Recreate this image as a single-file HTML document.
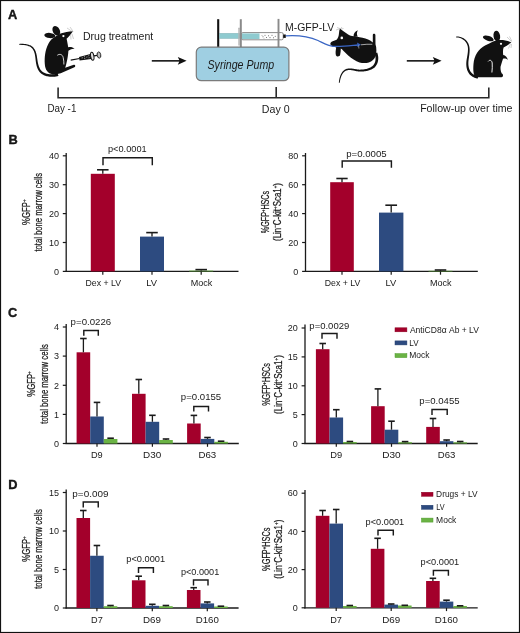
<!DOCTYPE html>
<html><head><meta charset="utf-8"><style>
html,body{margin:0;padding:0;background:#fff;overflow:hidden;}
svg{display:block;will-change:transform;}
text{fill:#1a1a1a;}
</style></head><body>
<svg width="520" height="633" viewBox="0 0 520 633" font-family='"Liberation Sans", sans-serif'>
<rect x="0" y="0" width="520" height="633" fill="#fff"/>
<text x="8.10" y="18.80" font-size="12.8" font-weight="bold" stroke="#000" stroke-width="0.35">A</text>
<text x="8.40" y="143.90" font-size="12.8" font-weight="bold" stroke="#000" stroke-width="0.35">B</text>
<text x="8.10" y="317.30" font-size="12.8" font-weight="bold" stroke="#000" stroke-width="0.35">C</text>
<text x="8.30" y="488.80" font-size="12.8" font-weight="bold" stroke="#000" stroke-width="0.35">D</text>
<g id="panelA">
<!-- Mouse 1 (sitting, looking up) -->
<path d="M19.42,44.90 L19.96,44.88 L20.50,44.87 L21.05,44.87 L21.60,44.88 L22.15,44.90 L22.70,44.93 L23.25,44.97 L23.80,45.02 L24.36,45.09 L24.91,45.16 L25.46,45.26 L26.00,45.36 L26.55,45.48 L27.09,45.62 L27.62,45.77 L28.15,45.94 L28.68,46.13 L29.20,46.33 L29.71,46.56 L30.18,46.78 L30.70,47.12 L31.19,47.49 L31.64,47.89 L32.06,48.31 L32.44,48.76 L32.80,49.23 L33.12,49.72 L33.41,50.24 L33.68,50.77 L33.93,51.33 L34.15,51.90 L34.35,52.49 L34.53,53.09 L34.69,53.71 L34.83,54.34 L34.96,54.98 L35.07,55.63 L35.17,56.29 L35.27,56.95 L35.35,57.61 L35.43,58.35 L35.51,59.10 L35.59,59.83 L35.68,60.56 L35.78,61.29 L35.88,62.00 L35.99,62.71 L36.11,63.41 L36.24,64.10 L36.39,64.79 L36.55,65.46 L36.73,66.13 L36.92,66.79 L37.14,67.44 L37.37,68.08 L37.63,68.70 L37.91,69.32 L38.22,69.93 L38.56,70.52 L38.94,71.11 L39.36,71.69 L39.83,72.23 L40.32,72.74 L40.85,73.22 L41.40,73.66 L41.98,74.08 L42.59,74.46 L43.22,74.82 L43.87,75.14 L44.54,75.44 L45.22,75.70 L45.93,75.94 L46.65,76.15 L47.38,76.33 L48.13,76.48 L48.89,76.61 L49.65,76.71 L50.43,76.79 L51.21,76.84 L51.99,76.86 L52.39,76.86 L52.78,76.86 L53.15,76.85 L53.52,76.83 L53.89,76.81 L54.24,76.78 L54.59,76.75 L54.94,76.71 L55.27,76.67 L55.60,76.62 L55.92,76.56 L56.24,76.50 L56.54,76.44 L56.84,76.37 L57.14,76.29 L57.42,76.21 L57.70,76.13 L57.98,76.04 L58.24,75.95 L58.49,75.86 L57.51,73.34 L57.30,73.43 L57.09,73.51 L56.88,73.58 L56.66,73.66 L56.42,73.73 L56.19,73.80 L55.94,73.86 L55.68,73.92 L55.42,73.98 L55.15,74.03 L54.87,74.09 L54.58,74.13 L54.29,74.17 L53.99,74.21 L53.67,74.25 L53.36,74.27 L53.03,74.30 L52.69,74.32 L52.35,74.33 L52.01,74.34 L51.29,74.34 L50.59,74.32 L49.90,74.27 L49.21,74.20 L48.54,74.11 L47.88,73.99 L47.23,73.85 L46.60,73.69 L45.99,73.50 L45.39,73.29 L44.81,73.05 L44.25,72.80 L43.72,72.52 L43.20,72.21 L42.71,71.88 L42.25,71.53 L41.81,71.16 L41.40,70.76 L41.02,70.33 L40.66,69.89 L40.35,69.42 L40.04,68.91 L39.76,68.40 L39.49,67.86 L39.25,67.31 L39.02,66.75 L38.81,66.17 L38.61,65.57 L38.43,64.96 L38.26,64.34 L38.11,63.70 L37.96,63.05 L37.83,62.38 L37.70,61.70 L37.58,61.01 L37.47,60.31 L37.36,59.60 L37.26,58.87 L37.15,58.14 L37.05,57.39 L36.95,56.70 L36.83,56.02 L36.70,55.33 L36.56,54.65 L36.41,53.98 L36.23,53.31 L36.04,52.65 L35.83,51.99 L35.59,51.35 L35.32,50.72 L35.03,50.11 L34.71,49.51 L34.36,48.94 L33.97,48.38 L33.54,47.85 L33.08,47.34 L32.58,46.86 L32.04,46.41 L31.46,46.00 L30.82,45.62 L30.24,45.35 L29.68,45.13 L29.11,44.92 L28.54,44.74 L27.97,44.57 L27.39,44.43 L26.81,44.30 L26.23,44.19 L25.65,44.09 L25.07,44.01 L24.49,43.95 L23.91,43.89 L23.33,43.86 L22.75,43.83 L22.18,43.82 L21.61,43.81 L21.04,43.82 L20.48,43.84 L19.92,43.87 L19.38,43.90 Z" fill="#111"/>
<path d="M52.5,74.2 C48,73.5 45.2,70 44.8,64 C44.4,57.5 45,50.5 48.4,43.8 C50,40.6 52.5,38.3 55,36.8 L60.5,33.6 C64.5,32.4 68.5,31.6 72.9,31.3 C71.5,33.6 69,36.4 66.6,38.8 C67.3,42 67.8,45 68.2,47.2 C70.3,46.6 72.8,47 74.6,48.8 C72.6,48.5 70.4,49.4 68.4,50.8 C68.2,55 67.5,59 66.6,62.5 C66.2,64.5 65.6,66.5 65.2,67.8 L73.8,64.8 C75.4,64.4 75.8,66.6 74.4,67.3 L63,72.3 C59.5,73.8 56,74.8 52.5,74.4 Z" fill="#111"/>
<ellipse cx="49.8" cy="35.5" rx="5.5" ry="2.6" transform="rotate(6 49.8 35.5)" fill="#111"/>
<ellipse cx="56.3" cy="30.8" rx="3.5" ry="5.1" transform="rotate(-28 56.3 30.8)" fill="#111"/>
<circle cx="63.4" cy="36.1" r="1.15" fill="#fff"/>
<path d="M57.3,55.3 C59.5,53.6 62.4,54.2 63.2,57.5 C63.8,60 63.9,62.5 63.9,64.5" fill="none" stroke="#e6e6e6" stroke-width="0.9"/>
<path d="M67,28 L73,32 M70,27 L73.2,31.5 M72,34 L73.5,39 M70.5,34 L71,39.5" stroke="#999" stroke-width="0.45" fill="none"/>
<!-- syringe on mouse 1 -->
<g transform="rotate(-10 85 57.6)">
<line x1="70.5" y1="57.6" x2="79.5" y2="57.6" stroke="#111" stroke-width="1.1"/>
<path d="M79.2,56 L91,54.9 L91,60.1 L79.2,59.4 Z" fill="#111"/>
<path d="M81.5,57.4 L83,57.4 M84,56.6 L85.2,56.6 M84,58.3 L85.2,58.3 M86.3,57.4 L87.6,57.4 M88.4,56.4 L89.6,56.4 M88.4,58.5 L89.6,58.5" stroke="#e8e8e8" stroke-width="0.55"/>
<ellipse cx="92.4" cy="57.5" rx="1.6" ry="4.1" fill="#ddd" stroke="#111" stroke-width="1"/>
<line x1="94" y1="57.5" x2="97.6" y2="57.5" stroke="#111" stroke-width="1.3"/>
<ellipse cx="99.2" cy="57.5" rx="1.8" ry="3.1" fill="#bbb" stroke="#222" stroke-width="0.9"/>
</g>
<text x="82.94" y="39.6" font-size="10.6" textLength="70.24" lengthAdjust="spacingAndGlyphs">Drug treatment</text>
<!-- arrow 1 -->
<line x1="151.8" y1="60.85" x2="181" y2="60.85" stroke="#222" stroke-width="1.7"/>
<path d="M186.6,60.85 L177.8,57.1 L179.6,60.85 L177.8,64.7 Z" fill="#111"/>
<!-- syringe pump -->
<line x1="218.2" y1="19.2" x2="218.2" y2="47" stroke="#111" stroke-width="2.1"/>
<rect x="219.3" y="33.3" width="20.4" height="5.2" fill="#8fcbd0" stroke="#7aa9ad" stroke-width="0.4"/>
<path d="M239,28.2 L239,45" stroke="#b5b5b5" stroke-width="1.4" stroke-linecap="round"/>
<rect x="241.4" y="32.6" width="41.8" height="7.2" rx="1.5" fill="#fff" stroke="#8a8a8a" stroke-width="1"/>
<rect x="241.9" y="33.4" width="17.6" height="5.6" fill="#8fcbd0"/>
<g fill="#666">
<circle cx="263" cy="36.8" r="0.55"/><circle cx="265" cy="35.3" r="0.55"/><circle cx="266.5" cy="37.5" r="0.55"/><circle cx="268.5" cy="35.8" r="0.55"/><circle cx="270" cy="37.6" r="0.55"/><circle cx="272" cy="35.2" r="0.55"/><circle cx="273.5" cy="37.8" r="0.55"/><circle cx="275.3" cy="36.2" r="0.55"/><circle cx="264" cy="38.2" r="0.4"/><circle cx="262" cy="35.5" r="0.4"/>
</g>
<line x1="240.8" y1="19.2" x2="240.8" y2="47" stroke="#8a8a8a" stroke-width="2"/>
<line x1="278.5" y1="18.9" x2="278.5" y2="47" stroke="#8a8a8a" stroke-width="1.9"/>
<rect x="283.2" y="34.5" width="2.6" height="3.4" fill="#111"/>
<rect x="196.3" y="47.1" width="92.6" height="33.6" rx="5" fill="#9fcfe2" stroke="#7b7b7b" stroke-width="1.2"/>
<text x="207.50" y="69.3" font-size="12.2" font-style="italic" textLength="66.64" lengthAdjust="spacingAndGlyphs">Syringe Pump</text>
<text x="285.06" y="30.6" font-size="10.3" textLength="49.19" lengthAdjust="spacingAndGlyphs">M-GFP-LV</text>
<!-- Mouse 2 (lying, injected) -->
<path d="M339.75,82.74 L339.79,82.41 L339.83,82.08 L339.87,81.75 L339.93,81.41 L339.98,81.07 L340.05,80.73 L340.11,80.38 L340.19,80.03 L340.26,79.68 L340.35,79.33 L340.44,78.97 L340.53,78.61 L340.64,78.25 L340.74,77.89 L340.86,77.53 L340.98,77.17 L341.11,76.80 L341.24,76.44 L341.39,76.08 L341.53,75.73 L341.76,75.23 L342.01,74.75 L342.27,74.28 L342.55,73.84 L342.84,73.41 L343.15,73.00 L343.47,72.61 L343.82,72.25 L344.17,71.91 L344.55,71.59 L344.94,71.30 L345.36,71.04 L345.79,70.80 L346.25,70.59 L346.73,70.41 L347.23,70.26 L347.76,70.14 L348.32,70.05 L348.90,69.99 L349.52,69.97 L349.99,69.99 L350.48,70.02 L350.97,70.07 L351.45,70.13 L351.94,70.21 L352.42,70.29 L352.91,70.39 L353.40,70.49 L353.89,70.59 L354.39,70.70 L354.90,70.81 L355.42,70.92 L355.95,71.03 L356.48,71.13 L357.03,71.23 L357.59,71.32 L358.16,71.40 L358.75,71.46 L359.36,71.52 L359.99,71.55 L360.92,71.56 L361.82,71.54 L362.70,71.50 L363.57,71.44 L364.43,71.35 L365.27,71.25 L366.09,71.12 L366.89,70.96 L367.67,70.78 L368.44,70.58 L369.18,70.36 L369.91,70.11 L370.61,69.83 L371.29,69.53 L371.94,69.21 L372.58,68.85 L373.18,68.47 L373.76,68.07 L374.32,67.63 L374.87,67.14 L375.38,66.56 L375.84,65.97 L376.26,65.36 L376.64,64.72 L376.98,64.06 L377.28,63.38 L377.54,62.68 L377.76,61.96 L377.94,61.22 L378.08,60.47 L378.18,59.71 L378.24,58.93 L378.26,58.14 L378.23,57.35 L378.16,56.54 L378.04,55.73 L377.88,54.92 L377.68,54.10 L377.44,53.28 L377.16,52.49 L374.44,53.51 L374.72,54.22 L374.95,54.90 L375.14,55.57 L375.30,56.24 L375.41,56.90 L375.49,57.56 L375.54,58.21 L375.55,58.85 L375.52,59.48 L375.47,60.10 L375.37,60.71 L375.25,61.31 L375.09,61.89 L374.90,62.45 L374.68,63.00 L374.43,63.54 L374.14,64.05 L373.83,64.55 L373.48,65.03 L373.13,65.46 L372.75,65.82 L372.32,66.18 L371.85,66.53 L371.36,66.87 L370.84,67.18 L370.29,67.48 L369.71,67.76 L369.10,68.02 L368.47,68.27 L367.81,68.49 L367.13,68.70 L366.42,68.88 L365.69,69.05 L364.94,69.19 L364.16,69.32 L363.37,69.43 L362.56,69.51 L361.72,69.58 L360.87,69.62 L360.01,69.65 L359.46,69.64 L358.90,69.61 L358.36,69.57 L357.83,69.51 L357.30,69.45 L356.78,69.37 L356.26,69.29 L355.75,69.20 L355.24,69.11 L354.73,69.02 L354.22,68.93 L353.71,68.84 L353.20,68.75 L352.69,68.67 L352.17,68.60 L351.65,68.54 L351.12,68.49 L350.59,68.45 L350.05,68.43 L349.48,68.43 L348.78,68.48 L348.10,68.57 L347.45,68.69 L346.83,68.86 L346.24,69.06 L345.68,69.30 L345.14,69.57 L344.63,69.87 L344.15,70.20 L343.70,70.56 L343.27,70.94 L342.87,71.35 L342.50,71.78 L342.14,72.23 L341.81,72.70 L341.51,73.18 L341.22,73.69 L340.95,74.20 L340.70,74.73 L340.47,75.27 L340.32,75.67 L340.19,76.06 L340.06,76.44 L339.94,76.83 L339.82,77.21 L339.71,77.59 L339.61,77.97 L339.52,78.35 L339.43,78.73 L339.35,79.10 L339.28,79.47 L339.21,79.84 L339.15,80.20 L339.09,80.57 L339.04,80.92 L338.99,81.28 L338.95,81.63 L338.91,81.98 L338.88,82.32 L338.85,82.66 Z" fill="#111"/>
<path d="M340,28.6 C342,30.5 345.5,33 348.1,34.4 C350,35.4 351.5,36 353.6,36.3 C357,36.8 358,37.1 359.6,37.3 C363.5,37.8 367.5,39 370.6,40.8 L372.8,42.5 L372.8,35 C372.8,33.3 375.3,33.3 375.4,35 L375.5,44.2 C376.8,48 376.6,53 375.6,56 C374.5,59.2 372,61.5 368.8,62.5 C366,63.3 362.5,63.3 359.5,62.4 C355.5,61.2 351.5,58.5 348.5,55.8 C346,53.5 343.5,51 342,49.2 L340.8,48.5 C340.8,50.5 340.6,53 340.1,55 C339.5,56.8 336.7,57 335.9,55.2 C335.3,53 335.7,50 336.2,47.6 C334.5,47 332.7,46.5 331.6,45.8 C330,44.8 329.8,42.8 331.6,41.7 C333,40.8 335,40.3 336.6,39.7 C338,38.5 338.8,36 339,33 C339.1,31.2 339.4,29.8 340,28.6 Z" fill="#111"/>
<path d="M353.6,36.9 C353.3,33.6 355,31 357.9,30.2 C356.7,32 356.6,34.3 357.7,36.6 Z" fill="#111"/>
<circle cx="341.8" cy="37.9" r="1.3" fill="#fff"/>
<path d="M336,30 L340,28.8 M337,27.5 L340.3,28.7 M342,27 L340.5,28.8 M343.5,28.5 L341,29" stroke="#999" stroke-width="0.45" fill="none"/>
<path d="M285.8,35.9 C300,35 310,37 318,40.5 C323,42.8 328,45.8 333,46.3 C341,46.9 350,45.7 358,45" fill="none" stroke="#3a66c4" stroke-width="1.3"/>
<path d="M361,44.8 L357,42.6 L357.6,44.9 L357.2,47 Z" fill="#3a66c4"/>
<path d="M361,44.8 C365,44.3 369,44 372.3,44.3" fill="none" stroke="#ccc" stroke-width="0.8"/>
<line x1="358.6" y1="45.5" x2="358.9" y2="48.5" stroke="#ccc" stroke-width="0.6"/>
<!-- arrow 2 -->
<line x1="406.8" y1="60.85" x2="436" y2="60.85" stroke="#222" stroke-width="1.7"/>
<path d="M441.6,60.85 L432.8,57.1 L434.6,60.85 L432.8,64.7 Z" fill="#111"/>
<!-- Mouse 3 (sitting) -->
<path d="M456.18,37.40 L457.17,37.46 L458.13,37.59 L459.07,37.78 L459.98,38.03 L460.86,38.34 L461.71,38.71 L462.52,39.14 L463.28,39.63 L464.00,40.17 L464.67,40.78 L465.29,41.44 L465.86,42.16 L466.36,42.93 L466.81,43.76 L467.19,44.65 L467.50,45.60 L467.74,46.60 L467.90,47.67 L467.98,48.80 L467.97,49.99 L467.92,50.98 L467.84,51.95 L467.74,52.88 L467.62,53.77 L467.49,54.64 L467.36,55.49 L467.22,56.32 L467.07,57.13 L466.93,57.93 L466.79,58.73 L466.66,59.52 L466.55,60.32 L466.45,61.12 L466.36,61.93 L466.31,62.76 L466.28,63.60 L466.28,64.46 L466.32,65.34 L466.40,66.25 L466.52,67.18 L466.69,68.12 L466.90,69.04 L467.16,69.91 L467.47,70.75 L467.83,71.56 L468.23,72.33 L468.67,73.06 L469.16,73.75 L469.69,74.40 L470.26,75.01 L470.87,75.57 L471.52,76.09 L472.20,76.57 L472.92,76.99 L473.67,77.37 L474.45,77.70 L475.26,77.99 L476.10,78.22 L476.97,78.41 L477.82,78.54 L478.18,75.86 L477.41,75.77 L476.70,75.64 L476.01,75.47 L475.35,75.27 L474.72,75.02 L474.11,74.74 L473.54,74.42 L472.98,74.06 L472.46,73.67 L471.97,73.24 L471.50,72.77 L471.06,72.27 L470.65,71.73 L470.27,71.14 L469.92,70.52 L469.60,69.86 L469.32,69.16 L469.07,68.42 L468.86,67.64 L468.68,66.82 L468.55,65.98 L468.45,65.17 L468.39,64.38 L468.37,63.60 L468.37,62.83 L468.40,62.08 L468.45,61.32 L468.52,60.56 L468.61,59.79 L468.71,59.02 L468.82,58.23 L468.93,57.43 L469.05,56.61 L469.17,55.76 L469.28,54.89 L469.38,53.99 L469.47,53.05 L469.55,52.08 L469.60,51.07 L469.63,50.01 L469.59,48.72 L469.46,47.47 L469.24,46.29 L468.94,45.17 L468.56,44.11 L468.09,43.12 L467.56,42.19 L466.96,41.34 L466.30,40.55 L465.58,39.82 L464.80,39.17 L463.98,38.59 L463.11,38.07 L462.21,37.63 L461.27,37.25 L460.30,36.94 L459.31,36.71 L458.29,36.54 L457.25,36.43 L456.22,36.40 Z" fill="#111"/>
<path d="M476.5,77.2 C473.2,76.2 473,70 473.5,64 C474.2,55.5 478.5,48.8 485.5,45.2 C488,44 490.5,42.8 493,41.5 L497,40.3 C502,39.6 507,40.5 511.4,42.3 C509,44.4 506,46 503.6,47.6 C502.8,50 502.9,52.5 503.2,55 C505.5,55.4 507.5,57.5 507.8,60 C506.5,58.8 504.7,58.3 503,58.8 C502.2,61.5 501.2,64 500.6,66.5 C500.3,69 500.8,71.5 501.8,73.6 C503.5,74.3 503.4,76.8 501.5,77.2 Z" fill="#111"/>
<ellipse cx="488.3" cy="38.4" rx="5.6" ry="2.5" transform="rotate(18 488.3 38.4)" fill="#111"/>
<ellipse cx="496.8" cy="36" rx="3.3" ry="5.4" transform="rotate(-8 496.8 36)" fill="#111"/>
<circle cx="501" cy="43.8" r="1.1" fill="#fff"/>
<path d="M488.2,61.4 C489.8,59.4 491.8,60.2 492.2,63 C492.5,66 492.2,69.5 491.9,72.5" fill="none" stroke="#eee" stroke-width="1.0"/>
<path d="M507,37 L511.5,41.5 M509.5,36.5 L511.8,41.2 M510.5,43.5 L508.5,48.5 M511.5,44 L511,48" stroke="#999" stroke-width="0.45" fill="none"/>
<!-- timeline -->
<path d="M58.1,87.5 L58.1,97.7 L488.8,97.7 L488.8,87.5" fill="none" stroke="#2a2a2a" stroke-width="1.6"/>
<line x1="276.2" y1="87" x2="276.2" y2="97.7" stroke="#2a2a2a" stroke-width="1.6"/>
<text x="47.39" y="111.8" font-size="10.8" textLength="28.99" lengthAdjust="spacingAndGlyphs">Day -1</text>
<text x="261.83" y="112.5" font-size="10.8" textLength="27.79" lengthAdjust="spacingAndGlyphs">Day 0</text>
<text x="420.13" y="112.3" font-size="10.8" textLength="92.34" lengthAdjust="spacingAndGlyphs">Follow-up over time</text>
</g>

<line x1="66.20" y1="153.00" x2="66.20" y2="272.00" stroke="#1a1a1a" stroke-width="1.3"/>
<line x1="65.60" y1="271.40" x2="238.50" y2="271.40" stroke="#1a1a1a" stroke-width="1.3"/>
<line x1="62.80" y1="155.80" x2="66.20" y2="155.80" stroke="#1a1a1a" stroke-width="1.2"/>
<text x="58.90" y="159.02" font-size="9" text-anchor="end">40</text>
<line x1="62.80" y1="184.70" x2="66.20" y2="184.70" stroke="#1a1a1a" stroke-width="1.2"/>
<text x="58.90" y="187.92" font-size="9" text-anchor="end">30</text>
<line x1="62.80" y1="213.60" x2="66.20" y2="213.60" stroke="#1a1a1a" stroke-width="1.2"/>
<text x="58.90" y="216.82" font-size="9" text-anchor="end">20</text>
<line x1="62.80" y1="242.50" x2="66.20" y2="242.50" stroke="#1a1a1a" stroke-width="1.2"/>
<text x="58.90" y="245.72" font-size="9" text-anchor="end">10</text>
<line x1="62.80" y1="271.40" x2="66.20" y2="271.40" stroke="#1a1a1a" stroke-width="1.2"/>
<text x="58.90" y="274.62" font-size="9" text-anchor="end">0</text>
<rect x="90.80" y="173.80" width="24.00" height="97.60" fill="#a3002b"/>
<rect x="140.00" y="236.60" width="24.00" height="34.80" fill="#2d4b80"/>
<rect x="189.20" y="270.60" width="24.00" height="0.80" fill="#6ab344"/>
<line x1="102.80" y1="169.80" x2="102.80" y2="173.80" stroke="#1a1a1a" stroke-width="1.3"/>
<line x1="97.04" y1="169.80" x2="108.56" y2="169.80" stroke="#1a1a1a" stroke-width="1.6"/>
<line x1="152.00" y1="232.60" x2="152.00" y2="236.60" stroke="#1a1a1a" stroke-width="1.3"/>
<line x1="146.24" y1="232.60" x2="157.76" y2="232.60" stroke="#1a1a1a" stroke-width="1.6"/>
<line x1="201.20" y1="269.60" x2="201.20" y2="270.60" stroke="#1a1a1a" stroke-width="1.3"/>
<line x1="195.44" y1="269.60" x2="206.96" y2="269.60" stroke="#1a1a1a" stroke-width="1.6"/>
<line x1="102.80" y1="271.40" x2="102.80" y2="274.70" stroke="#1a1a1a" stroke-width="1.2"/>
<line x1="152.00" y1="271.40" x2="152.00" y2="274.70" stroke="#1a1a1a" stroke-width="1.2"/>
<line x1="201.20" y1="271.40" x2="201.20" y2="274.70" stroke="#1a1a1a" stroke-width="1.2"/>
<text x="85.50" y="286.44" font-size="9" textLength="35.54" lengthAdjust="spacingAndGlyphs">Dex + LV</text>
<text x="146.28" y="286.44" font-size="9" textLength="10.76" lengthAdjust="spacingAndGlyphs">LV</text>
<text x="190.66" y="286.44" font-size="9" textLength="21.63" lengthAdjust="spacingAndGlyphs">Mock</text>
<polyline points="103.00,165.20 103.00,157.80 152.30,157.80 152.30,165.20" fill="none" stroke="#1a1a1a" stroke-width="1.45"/>
<text x="108.01" y="152.04" font-size="9" textLength="38.64" lengthAdjust="spacingAndGlyphs">p&lt;0.0001</text>
<line x1="305.50" y1="153.00" x2="305.50" y2="272.00" stroke="#1a1a1a" stroke-width="1.3"/>
<line x1="304.90" y1="271.40" x2="477.80" y2="271.40" stroke="#1a1a1a" stroke-width="1.3"/>
<line x1="302.10" y1="155.80" x2="305.50" y2="155.80" stroke="#1a1a1a" stroke-width="1.2"/>
<text x="298.20" y="159.02" font-size="9" text-anchor="end">80</text>
<line x1="302.10" y1="184.70" x2="305.50" y2="184.70" stroke="#1a1a1a" stroke-width="1.2"/>
<text x="298.20" y="187.92" font-size="9" text-anchor="end">60</text>
<line x1="302.10" y1="213.60" x2="305.50" y2="213.60" stroke="#1a1a1a" stroke-width="1.2"/>
<text x="298.20" y="216.82" font-size="9" text-anchor="end">40</text>
<line x1="302.10" y1="242.50" x2="305.50" y2="242.50" stroke="#1a1a1a" stroke-width="1.2"/>
<text x="298.20" y="245.72" font-size="9" text-anchor="end">20</text>
<line x1="302.10" y1="271.40" x2="305.50" y2="271.40" stroke="#1a1a1a" stroke-width="1.2"/>
<text x="298.20" y="274.62" font-size="9" text-anchor="end">0</text>
<rect x="330.20" y="182.20" width="23.60" height="89.20" fill="#a3002b"/>
<rect x="379.00" y="212.60" width="24.40" height="58.80" fill="#2d4b80"/>
<rect x="428.50" y="270.80" width="24.00" height="0.60" fill="#6ab344"/>
<line x1="342.00" y1="178.50" x2="342.00" y2="182.20" stroke="#1a1a1a" stroke-width="1.3"/>
<line x1="336.34" y1="178.50" x2="347.66" y2="178.50" stroke="#1a1a1a" stroke-width="1.6"/>
<line x1="391.20" y1="205.20" x2="391.20" y2="212.60" stroke="#1a1a1a" stroke-width="1.3"/>
<line x1="385.34" y1="205.20" x2="397.06" y2="205.20" stroke="#1a1a1a" stroke-width="1.6"/>
<line x1="440.50" y1="270.00" x2="440.50" y2="270.80" stroke="#1a1a1a" stroke-width="1.3"/>
<line x1="434.74" y1="270.00" x2="446.26" y2="270.00" stroke="#1a1a1a" stroke-width="1.6"/>
<line x1="342.00" y1="271.40" x2="342.00" y2="274.70" stroke="#1a1a1a" stroke-width="1.2"/>
<line x1="391.20" y1="271.40" x2="391.20" y2="274.70" stroke="#1a1a1a" stroke-width="1.2"/>
<line x1="440.50" y1="271.40" x2="440.50" y2="274.70" stroke="#1a1a1a" stroke-width="1.2"/>
<text x="324.80" y="286.44" font-size="9" textLength="35.54" lengthAdjust="spacingAndGlyphs">Dex + LV</text>
<text x="385.58" y="286.44" font-size="9" textLength="10.76" lengthAdjust="spacingAndGlyphs">LV</text>
<text x="429.96" y="286.44" font-size="9" textLength="21.63" lengthAdjust="spacingAndGlyphs">Mock</text>
<polyline points="342.20,167.70 342.20,161.00 391.40,161.00 391.40,167.70" fill="none" stroke="#1a1a1a" stroke-width="1.45"/>
<text x="346.18" y="156.64" font-size="9" textLength="40.42" lengthAdjust="spacingAndGlyphs">p=0.0005</text>
<line x1="66.20" y1="324.00" x2="66.20" y2="444.10" stroke="#1a1a1a" stroke-width="1.3"/>
<line x1="65.60" y1="443.50" x2="238.80" y2="443.50" stroke="#1a1a1a" stroke-width="1.3"/>
<line x1="62.80" y1="327.00" x2="66.20" y2="327.00" stroke="#1a1a1a" stroke-width="1.2"/>
<text x="58.90" y="330.22" font-size="9" text-anchor="end">4</text>
<line x1="62.80" y1="356.10" x2="66.20" y2="356.10" stroke="#1a1a1a" stroke-width="1.2"/>
<text x="58.90" y="359.32" font-size="9" text-anchor="end">3</text>
<line x1="62.80" y1="385.30" x2="66.20" y2="385.30" stroke="#1a1a1a" stroke-width="1.2"/>
<text x="58.90" y="388.52" font-size="9" text-anchor="end">2</text>
<line x1="62.80" y1="414.40" x2="66.20" y2="414.40" stroke="#1a1a1a" stroke-width="1.2"/>
<text x="58.90" y="417.62" font-size="9" text-anchor="end">1</text>
<line x1="62.80" y1="443.50" x2="66.20" y2="443.50" stroke="#1a1a1a" stroke-width="1.2"/>
<text x="58.90" y="446.72" font-size="9" text-anchor="end">0</text>
<rect x="76.60" y="352.30" width="13.60" height="91.20" fill="#a3002b"/>
<rect x="90.20" y="416.50" width="13.60" height="27.00" fill="#2d4b80"/>
<rect x="103.80" y="439.00" width="13.60" height="4.50" fill="#6ab344"/>
<rect x="132.00" y="393.80" width="13.60" height="49.70" fill="#a3002b"/>
<rect x="145.60" y="421.80" width="13.60" height="21.70" fill="#2d4b80"/>
<rect x="159.20" y="440.00" width="13.60" height="3.50" fill="#6ab344"/>
<rect x="187.10" y="423.50" width="13.60" height="20.00" fill="#a3002b"/>
<rect x="200.70" y="438.90" width="13.60" height="4.60" fill="#2d4b80"/>
<rect x="214.30" y="441.80" width="13.60" height="1.70" fill="#6ab344"/>
<line x1="83.40" y1="338.50" x2="83.40" y2="352.30" stroke="#1a1a1a" stroke-width="1.3"/>
<line x1="80.14" y1="338.50" x2="86.66" y2="338.50" stroke="#1a1a1a" stroke-width="1.6"/>
<line x1="97.00" y1="402.40" x2="97.00" y2="416.50" stroke="#1a1a1a" stroke-width="1.3"/>
<line x1="93.74" y1="402.40" x2="100.26" y2="402.40" stroke="#1a1a1a" stroke-width="1.6"/>
<line x1="110.60" y1="438.20" x2="110.60" y2="439.00" stroke="#1a1a1a" stroke-width="1.3"/>
<line x1="107.34" y1="438.20" x2="113.86" y2="438.20" stroke="#1a1a1a" stroke-width="1.6"/>
<line x1="138.80" y1="379.50" x2="138.80" y2="393.80" stroke="#1a1a1a" stroke-width="1.3"/>
<line x1="135.54" y1="379.50" x2="142.06" y2="379.50" stroke="#1a1a1a" stroke-width="1.6"/>
<line x1="152.40" y1="415.30" x2="152.40" y2="421.80" stroke="#1a1a1a" stroke-width="1.3"/>
<line x1="149.14" y1="415.30" x2="155.66" y2="415.30" stroke="#1a1a1a" stroke-width="1.6"/>
<line x1="166.00" y1="439.00" x2="166.00" y2="440.00" stroke="#1a1a1a" stroke-width="1.3"/>
<line x1="162.74" y1="439.00" x2="169.26" y2="439.00" stroke="#1a1a1a" stroke-width="1.6"/>
<line x1="193.90" y1="415.40" x2="193.90" y2="423.50" stroke="#1a1a1a" stroke-width="1.3"/>
<line x1="190.64" y1="415.40" x2="197.16" y2="415.40" stroke="#1a1a1a" stroke-width="1.6"/>
<line x1="207.50" y1="437.50" x2="207.50" y2="438.90" stroke="#1a1a1a" stroke-width="1.3"/>
<line x1="204.24" y1="437.50" x2="210.76" y2="437.50" stroke="#1a1a1a" stroke-width="1.6"/>
<line x1="221.10" y1="441.20" x2="221.10" y2="441.80" stroke="#1a1a1a" stroke-width="1.3"/>
<line x1="217.84" y1="441.20" x2="224.36" y2="441.20" stroke="#1a1a1a" stroke-width="1.6"/>
<line x1="97.00" y1="443.50" x2="97.00" y2="446.80" stroke="#1a1a1a" stroke-width="1.2"/>
<line x1="152.40" y1="443.50" x2="152.40" y2="446.80" stroke="#1a1a1a" stroke-width="1.2"/>
<line x1="207.50" y1="443.50" x2="207.50" y2="446.80" stroke="#1a1a1a" stroke-width="1.2"/>
<text x="90.94" y="458.24" font-size="9" textLength="11.79" lengthAdjust="spacingAndGlyphs">D9</text>
<text x="142.99" y="458.24" font-size="9" textLength="18.20" lengthAdjust="spacingAndGlyphs">D30</text>
<text x="198.40" y="458.24" font-size="9" textLength="17.82" lengthAdjust="spacingAndGlyphs">D63</text>
<polyline points="83.80,335.70 83.80,330.40 98.30,330.40 98.30,335.70" fill="none" stroke="#1a1a1a" stroke-width="1.45"/>
<polyline points="193.80,411.50 193.80,406.50 208.50,406.50 208.50,411.50" fill="none" stroke="#1a1a1a" stroke-width="1.45"/>
<text x="70.63" y="324.59" font-size="9" textLength="40.55" lengthAdjust="spacingAndGlyphs">p=0.0226</text>
<text x="180.88" y="400.44" font-size="9" textLength="40.32" lengthAdjust="spacingAndGlyphs">p=0.0155</text>
<line x1="305.00" y1="324.50" x2="305.00" y2="444.10" stroke="#1a1a1a" stroke-width="1.3"/>
<line x1="304.40" y1="443.50" x2="477.70" y2="443.50" stroke="#1a1a1a" stroke-width="1.3"/>
<line x1="301.60" y1="328.00" x2="305.00" y2="328.00" stroke="#1a1a1a" stroke-width="1.2"/>
<text x="297.70" y="331.22" font-size="9" text-anchor="end">20</text>
<line x1="301.60" y1="356.90" x2="305.00" y2="356.90" stroke="#1a1a1a" stroke-width="1.2"/>
<text x="297.70" y="360.12" font-size="9" text-anchor="end">15</text>
<line x1="301.60" y1="385.80" x2="305.00" y2="385.80" stroke="#1a1a1a" stroke-width="1.2"/>
<text x="297.70" y="389.02" font-size="9" text-anchor="end">10</text>
<line x1="301.60" y1="414.60" x2="305.00" y2="414.60" stroke="#1a1a1a" stroke-width="1.2"/>
<text x="297.70" y="417.82" font-size="9" text-anchor="end">5</text>
<line x1="301.60" y1="443.50" x2="305.00" y2="443.50" stroke="#1a1a1a" stroke-width="1.2"/>
<text x="297.70" y="446.72" font-size="9" text-anchor="end">0</text>
<rect x="315.90" y="349.20" width="13.60" height="94.30" fill="#a3002b"/>
<rect x="329.50" y="417.50" width="13.60" height="26.00" fill="#2d4b80"/>
<rect x="343.10" y="442.00" width="13.60" height="1.50" fill="#6ab344"/>
<rect x="371.10" y="406.20" width="13.60" height="37.30" fill="#a3002b"/>
<rect x="384.70" y="429.70" width="13.60" height="13.80" fill="#2d4b80"/>
<rect x="398.30" y="442.20" width="13.60" height="1.30" fill="#6ab344"/>
<rect x="426.20" y="426.90" width="13.60" height="16.60" fill="#a3002b"/>
<rect x="439.80" y="441.20" width="13.60" height="2.30" fill="#2d4b80"/>
<rect x="453.40" y="442.30" width="13.60" height="1.20" fill="#6ab344"/>
<line x1="322.70" y1="343.50" x2="322.70" y2="349.20" stroke="#1a1a1a" stroke-width="1.3"/>
<line x1="319.44" y1="343.50" x2="325.96" y2="343.50" stroke="#1a1a1a" stroke-width="1.6"/>
<line x1="336.30" y1="409.70" x2="336.30" y2="417.50" stroke="#1a1a1a" stroke-width="1.3"/>
<line x1="333.04" y1="409.70" x2="339.56" y2="409.70" stroke="#1a1a1a" stroke-width="1.6"/>
<line x1="349.90" y1="441.50" x2="349.90" y2="442.00" stroke="#1a1a1a" stroke-width="1.3"/>
<line x1="346.64" y1="441.50" x2="353.16" y2="441.50" stroke="#1a1a1a" stroke-width="1.6"/>
<line x1="377.90" y1="388.90" x2="377.90" y2="406.20" stroke="#1a1a1a" stroke-width="1.3"/>
<line x1="374.64" y1="388.90" x2="381.16" y2="388.90" stroke="#1a1a1a" stroke-width="1.6"/>
<line x1="391.50" y1="421.20" x2="391.50" y2="429.70" stroke="#1a1a1a" stroke-width="1.3"/>
<line x1="388.24" y1="421.20" x2="394.76" y2="421.20" stroke="#1a1a1a" stroke-width="1.6"/>
<line x1="405.10" y1="441.60" x2="405.10" y2="442.20" stroke="#1a1a1a" stroke-width="1.3"/>
<line x1="401.84" y1="441.60" x2="408.36" y2="441.60" stroke="#1a1a1a" stroke-width="1.6"/>
<line x1="433.00" y1="418.50" x2="433.00" y2="426.90" stroke="#1a1a1a" stroke-width="1.3"/>
<line x1="429.74" y1="418.50" x2="436.26" y2="418.50" stroke="#1a1a1a" stroke-width="1.6"/>
<line x1="446.60" y1="440.00" x2="446.60" y2="441.20" stroke="#1a1a1a" stroke-width="1.3"/>
<line x1="443.34" y1="440.00" x2="449.86" y2="440.00" stroke="#1a1a1a" stroke-width="1.6"/>
<line x1="460.20" y1="441.50" x2="460.20" y2="442.30" stroke="#1a1a1a" stroke-width="1.3"/>
<line x1="456.94" y1="441.50" x2="463.46" y2="441.50" stroke="#1a1a1a" stroke-width="1.6"/>
<line x1="336.30" y1="443.50" x2="336.30" y2="446.80" stroke="#1a1a1a" stroke-width="1.2"/>
<line x1="391.50" y1="443.50" x2="391.50" y2="446.80" stroke="#1a1a1a" stroke-width="1.2"/>
<line x1="446.60" y1="443.50" x2="446.60" y2="446.80" stroke="#1a1a1a" stroke-width="1.2"/>
<text x="330.24" y="458.24" font-size="9" textLength="11.91" lengthAdjust="spacingAndGlyphs">D9</text>
<text x="382.18" y="458.24" font-size="9" textLength="18.42" lengthAdjust="spacingAndGlyphs">D30</text>
<text x="437.71" y="458.24" font-size="9" textLength="17.61" lengthAdjust="spacingAndGlyphs">D63</text>
<polyline points="322.00,338.80 322.00,333.50 337.00,333.50 337.00,338.80" fill="none" stroke="#1a1a1a" stroke-width="1.45"/>
<polyline points="432.00,415.00 432.00,409.50 447.20,409.50 447.20,415.00" fill="none" stroke="#1a1a1a" stroke-width="1.45"/>
<text x="309.39" y="329.24" font-size="9" textLength="39.86" lengthAdjust="spacingAndGlyphs">p=0.0029</text>
<text x="419.38" y="404.34" font-size="9" textLength="40.22" lengthAdjust="spacingAndGlyphs">p=0.0455</text>
<line x1="66.20" y1="489.50" x2="66.20" y2="608.60" stroke="#1a1a1a" stroke-width="1.3"/>
<line x1="65.60" y1="608.00" x2="238.60" y2="608.00" stroke="#1a1a1a" stroke-width="1.3"/>
<line x1="62.80" y1="492.50" x2="66.20" y2="492.50" stroke="#1a1a1a" stroke-width="1.2"/>
<text x="58.90" y="495.72" font-size="9" text-anchor="end">15</text>
<line x1="62.80" y1="531.00" x2="66.20" y2="531.00" stroke="#1a1a1a" stroke-width="1.2"/>
<text x="58.90" y="534.22" font-size="9" text-anchor="end">10</text>
<line x1="62.80" y1="569.50" x2="66.20" y2="569.50" stroke="#1a1a1a" stroke-width="1.2"/>
<text x="58.90" y="572.72" font-size="9" text-anchor="end">5</text>
<line x1="62.80" y1="608.00" x2="66.20" y2="608.00" stroke="#1a1a1a" stroke-width="1.2"/>
<text x="58.90" y="611.22" font-size="9" text-anchor="end">0</text>
<rect x="76.50" y="518.00" width="13.60" height="90.00" fill="#a3002b"/>
<rect x="90.10" y="555.75" width="13.60" height="52.25" fill="#2d4b80"/>
<rect x="103.70" y="606.20" width="13.60" height="1.80" fill="#6ab344"/>
<rect x="131.90" y="580.30" width="13.60" height="27.70" fill="#a3002b"/>
<rect x="145.50" y="605.80" width="13.60" height="2.20" fill="#2d4b80"/>
<rect x="159.10" y="606.20" width="13.60" height="1.80" fill="#6ab344"/>
<rect x="186.90" y="590.00" width="13.60" height="18.00" fill="#a3002b"/>
<rect x="200.50" y="603.40" width="13.60" height="4.60" fill="#2d4b80"/>
<rect x="214.10" y="606.50" width="13.60" height="1.50" fill="#6ab344"/>
<line x1="83.30" y1="510.50" x2="83.30" y2="518.00" stroke="#1a1a1a" stroke-width="1.3"/>
<line x1="80.04" y1="510.50" x2="86.56" y2="510.50" stroke="#1a1a1a" stroke-width="1.6"/>
<line x1="96.90" y1="545.50" x2="96.90" y2="555.75" stroke="#1a1a1a" stroke-width="1.3"/>
<line x1="93.64" y1="545.50" x2="100.16" y2="545.50" stroke="#1a1a1a" stroke-width="1.6"/>
<line x1="110.50" y1="605.50" x2="110.50" y2="606.20" stroke="#1a1a1a" stroke-width="1.3"/>
<line x1="107.24" y1="605.50" x2="113.76" y2="605.50" stroke="#1a1a1a" stroke-width="1.6"/>
<line x1="138.70" y1="576.20" x2="138.70" y2="580.30" stroke="#1a1a1a" stroke-width="1.3"/>
<line x1="135.44" y1="576.20" x2="141.96" y2="576.20" stroke="#1a1a1a" stroke-width="1.6"/>
<line x1="152.30" y1="604.30" x2="152.30" y2="605.80" stroke="#1a1a1a" stroke-width="1.3"/>
<line x1="149.04" y1="604.30" x2="155.56" y2="604.30" stroke="#1a1a1a" stroke-width="1.6"/>
<line x1="165.90" y1="605.50" x2="165.90" y2="606.20" stroke="#1a1a1a" stroke-width="1.3"/>
<line x1="162.64" y1="605.50" x2="169.16" y2="605.50" stroke="#1a1a1a" stroke-width="1.6"/>
<line x1="193.70" y1="587.70" x2="193.70" y2="590.00" stroke="#1a1a1a" stroke-width="1.3"/>
<line x1="190.44" y1="587.70" x2="196.96" y2="587.70" stroke="#1a1a1a" stroke-width="1.6"/>
<line x1="207.30" y1="602.00" x2="207.30" y2="603.40" stroke="#1a1a1a" stroke-width="1.3"/>
<line x1="204.04" y1="602.00" x2="210.56" y2="602.00" stroke="#1a1a1a" stroke-width="1.6"/>
<line x1="217.64" y1="606.20" x2="224.16" y2="606.20" stroke="#1a1a1a" stroke-width="1.6"/>
<line x1="96.90" y1="608.00" x2="96.90" y2="611.30" stroke="#1a1a1a" stroke-width="1.2"/>
<line x1="152.30" y1="608.00" x2="152.30" y2="611.30" stroke="#1a1a1a" stroke-width="1.2"/>
<line x1="207.30" y1="608.00" x2="207.30" y2="611.30" stroke="#1a1a1a" stroke-width="1.2"/>
<text x="91.05" y="622.94" font-size="9" textLength="11.71" lengthAdjust="spacingAndGlyphs">D7</text>
<text x="143.00" y="622.94" font-size="9" textLength="17.97" lengthAdjust="spacingAndGlyphs">D69</text>
<text x="195.70" y="622.94" font-size="9" textLength="23.17" lengthAdjust="spacingAndGlyphs">D160</text>
<polyline points="83.25,507.50 83.25,502.00 98.25,502.00 98.25,507.50" fill="none" stroke="#1a1a1a" stroke-width="1.45"/>
<polyline points="138.50,573.00 138.50,567.70 153.40,567.70 153.40,573.00" fill="none" stroke="#1a1a1a" stroke-width="1.45"/>
<polyline points="193.50,585.40 193.50,580.00 208.00,580.00 208.00,585.40" fill="none" stroke="#1a1a1a" stroke-width="1.45"/>
<text x="72.36" y="497.09" font-size="9" textLength="36.11" lengthAdjust="spacingAndGlyphs">p=0.009</text>
<text x="126.31" y="562.04" font-size="9" textLength="38.75" lengthAdjust="spacingAndGlyphs">p&lt;0.0001</text>
<text x="180.91" y="575.04" font-size="9" textLength="38.33" lengthAdjust="spacingAndGlyphs">p&lt;0.0001</text>
<line x1="305.00" y1="490.00" x2="305.00" y2="608.40" stroke="#1a1a1a" stroke-width="1.3"/>
<line x1="304.40" y1="607.80" x2="477.70" y2="607.80" stroke="#1a1a1a" stroke-width="1.3"/>
<line x1="301.60" y1="493.20" x2="305.00" y2="493.20" stroke="#1a1a1a" stroke-width="1.2"/>
<text x="297.70" y="496.42" font-size="9" text-anchor="end">60</text>
<line x1="301.60" y1="531.40" x2="305.00" y2="531.40" stroke="#1a1a1a" stroke-width="1.2"/>
<text x="297.70" y="534.62" font-size="9" text-anchor="end">40</text>
<line x1="301.60" y1="569.60" x2="305.00" y2="569.60" stroke="#1a1a1a" stroke-width="1.2"/>
<text x="297.70" y="572.82" font-size="9" text-anchor="end">20</text>
<line x1="301.60" y1="607.80" x2="305.00" y2="607.80" stroke="#1a1a1a" stroke-width="1.2"/>
<text x="297.70" y="611.02" font-size="9" text-anchor="end">0</text>
<rect x="315.80" y="515.80" width="13.60" height="92.00" fill="#a3002b"/>
<rect x="329.40" y="523.60" width="13.60" height="84.20" fill="#2d4b80"/>
<rect x="343.00" y="606.00" width="13.60" height="1.80" fill="#6ab344"/>
<rect x="370.80" y="548.80" width="13.60" height="59.00" fill="#a3002b"/>
<rect x="384.40" y="604.60" width="13.60" height="3.20" fill="#2d4b80"/>
<rect x="398.00" y="605.50" width="13.60" height="2.30" fill="#6ab344"/>
<rect x="426.10" y="581.00" width="13.60" height="26.80" fill="#a3002b"/>
<rect x="439.70" y="601.60" width="13.60" height="6.20" fill="#2d4b80"/>
<rect x="453.30" y="606.00" width="13.60" height="1.80" fill="#6ab344"/>
<line x1="322.60" y1="510.50" x2="322.60" y2="515.80" stroke="#1a1a1a" stroke-width="1.3"/>
<line x1="319.34" y1="510.50" x2="325.86" y2="510.50" stroke="#1a1a1a" stroke-width="1.6"/>
<line x1="336.20" y1="509.50" x2="336.20" y2="523.60" stroke="#1a1a1a" stroke-width="1.3"/>
<line x1="332.94" y1="509.50" x2="339.46" y2="509.50" stroke="#1a1a1a" stroke-width="1.6"/>
<line x1="349.80" y1="605.50" x2="349.80" y2="606.00" stroke="#1a1a1a" stroke-width="1.3"/>
<line x1="346.54" y1="605.50" x2="353.06" y2="605.50" stroke="#1a1a1a" stroke-width="1.6"/>
<line x1="377.60" y1="538.30" x2="377.60" y2="548.80" stroke="#1a1a1a" stroke-width="1.3"/>
<line x1="374.34" y1="538.30" x2="380.86" y2="538.30" stroke="#1a1a1a" stroke-width="1.6"/>
<line x1="391.20" y1="604.00" x2="391.20" y2="604.60" stroke="#1a1a1a" stroke-width="1.3"/>
<line x1="387.94" y1="604.00" x2="394.46" y2="604.00" stroke="#1a1a1a" stroke-width="1.6"/>
<line x1="401.54" y1="605.30" x2="408.06" y2="605.30" stroke="#1a1a1a" stroke-width="1.6"/>
<line x1="432.90" y1="578.30" x2="432.90" y2="581.00" stroke="#1a1a1a" stroke-width="1.3"/>
<line x1="429.64" y1="578.30" x2="436.16" y2="578.30" stroke="#1a1a1a" stroke-width="1.6"/>
<line x1="446.50" y1="600.20" x2="446.50" y2="601.60" stroke="#1a1a1a" stroke-width="1.3"/>
<line x1="443.24" y1="600.20" x2="449.76" y2="600.20" stroke="#1a1a1a" stroke-width="1.6"/>
<line x1="456.84" y1="605.80" x2="463.36" y2="605.80" stroke="#1a1a1a" stroke-width="1.6"/>
<line x1="336.20" y1="607.80" x2="336.20" y2="611.10" stroke="#1a1a1a" stroke-width="1.2"/>
<line x1="391.20" y1="607.80" x2="391.20" y2="611.10" stroke="#1a1a1a" stroke-width="1.2"/>
<line x1="446.50" y1="607.80" x2="446.50" y2="611.10" stroke="#1a1a1a" stroke-width="1.2"/>
<text x="330.25" y="622.94" font-size="9" textLength="11.71" lengthAdjust="spacingAndGlyphs">D7</text>
<text x="382.20" y="622.94" font-size="9" textLength="17.97" lengthAdjust="spacingAndGlyphs">D69</text>
<text x="434.70" y="622.94" font-size="9" textLength="23.28" lengthAdjust="spacingAndGlyphs">D160</text>
<polyline points="378.00,535.60 378.00,530.30 393.30,530.30 393.30,535.60" fill="none" stroke="#1a1a1a" stroke-width="1.45"/>
<polyline points="433.40,575.80 433.40,570.50 448.40,570.50 448.40,575.80" fill="none" stroke="#1a1a1a" stroke-width="1.45"/>
<text x="365.61" y="524.64" font-size="9" textLength="38.64" lengthAdjust="spacingAndGlyphs">p&lt;0.0001</text>
<text x="420.61" y="564.74" font-size="9" textLength="38.64" lengthAdjust="spacingAndGlyphs">p&lt;0.0001</text>
<rect x="395.00" y="327.80" width="11.90" height="4.0" fill="#a3002b" stroke="#8c0022" stroke-width="0.5"/>
<text x="409.88" y="332.57" font-size="9" textLength="69.05" lengthAdjust="spacingAndGlyphs">AntiCD8α Ab + LV</text>
<rect x="395.00" y="340.90" width="11.90" height="4.0" fill="#2d4b80" stroke="#223c6c" stroke-width="0.5"/>
<text x="409.28" y="345.67" font-size="9" textLength="9.25" lengthAdjust="spacingAndGlyphs">LV</text>
<rect x="395.00" y="353.60" width="11.90" height="4.0" fill="#6ab344" stroke="#4f9a2c" stroke-width="0.5"/>
<text x="409.20" y="358.37" font-size="9" textLength="20.28" lengthAdjust="spacingAndGlyphs">Mock</text>
<rect x="421.50" y="492.25" width="11.50" height="4.0" fill="#a3002b" stroke="#8c0022" stroke-width="0.5"/>
<text x="436.12" y="497.02" font-size="9" textLength="41.41" lengthAdjust="spacingAndGlyphs">Drugs + LV</text>
<rect x="421.50" y="505.25" width="11.50" height="4.0" fill="#2d4b80" stroke="#223c6c" stroke-width="0.5"/>
<text x="436.24" y="510.02" font-size="9" textLength="8.39" lengthAdjust="spacingAndGlyphs">LV</text>
<rect x="421.50" y="518.10" width="11.50" height="4.0" fill="#6ab344" stroke="#4f9a2c" stroke-width="0.5"/>
<text x="436.10" y="522.87" font-size="9" textLength="20.28" lengthAdjust="spacingAndGlyphs">Mock</text>
<text transform="translate(30.00,212.20) rotate(-90)" x="0" y="0" font-size="10" text-anchor="middle" textLength="25.50" lengthAdjust="spacingAndGlyphs" stroke="#1a1a1a" stroke-width="0.25">%GFP<tspan baseline-shift="3.6" font-size="5.8">+</tspan></text>
<text transform="translate(42.30,212.20) rotate(-90)" x="0" y="0" font-size="10" text-anchor="middle" textLength="78.70" lengthAdjust="spacingAndGlyphs" stroke="#1a1a1a" stroke-width="0.25">total bone marrow cells</text>
<text transform="translate(35.30,384.00) rotate(-90)" x="0" y="0" font-size="10" text-anchor="middle" textLength="25.50" lengthAdjust="spacingAndGlyphs" stroke="#1a1a1a" stroke-width="0.25">%GFP<tspan baseline-shift="3.6" font-size="5.8">+</tspan></text>
<text transform="translate(47.60,384.00) rotate(-90)" x="0" y="0" font-size="10" text-anchor="middle" textLength="79.50" lengthAdjust="spacingAndGlyphs" stroke="#1a1a1a" stroke-width="0.25">total bone marrow cells</text>
<text transform="translate(30.00,549.00) rotate(-90)" x="0" y="0" font-size="10" text-anchor="middle" textLength="25.50" lengthAdjust="spacingAndGlyphs" stroke="#1a1a1a" stroke-width="0.25">%GFP<tspan baseline-shift="3.6" font-size="5.8">+</tspan></text>
<text transform="translate(42.30,549.00) rotate(-90)" x="0" y="0" font-size="10" text-anchor="middle" textLength="79.60" lengthAdjust="spacingAndGlyphs" stroke="#1a1a1a" stroke-width="0.25">total bone marrow cells</text>
<text transform="translate(269.40,212.00) rotate(-90)" x="0" y="0" font-size="10" text-anchor="middle" textLength="42.30" lengthAdjust="spacingAndGlyphs" stroke="#1a1a1a" stroke-width="0.25">%GFP<tspan baseline-shift="3.6" font-size="5.8">+</tspan>HSCs</text>
<text transform="translate(280.60,212.00) rotate(-90)" x="0" y="0" font-size="10" text-anchor="middle" textLength="58.00" lengthAdjust="spacingAndGlyphs" stroke="#1a1a1a" stroke-width="0.25">(Lin<tspan baseline-shift="3.6" font-size="5.8">−</tspan>C-kit<tspan baseline-shift="3.6" font-size="5.8">+</tspan>Sca1<tspan baseline-shift="3.6" font-size="5.8">+</tspan>)</text>
<text transform="translate(269.60,384.50) rotate(-90)" x="0" y="0" font-size="10" text-anchor="middle" textLength="42.70" lengthAdjust="spacingAndGlyphs" stroke="#1a1a1a" stroke-width="0.25">%GFP<tspan baseline-shift="3.6" font-size="5.8">+</tspan>HSCs</text>
<text transform="translate(281.50,384.50) rotate(-90)" x="0" y="0" font-size="10" text-anchor="middle" textLength="58.80" lengthAdjust="spacingAndGlyphs" stroke="#1a1a1a" stroke-width="0.25">(Lin<tspan baseline-shift="3.6" font-size="5.8">−</tspan>C-kit<tspan baseline-shift="3.6" font-size="5.8">+</tspan>Sca1<tspan baseline-shift="3.6" font-size="5.8">+</tspan>)</text>
<text transform="translate(269.60,549.20) rotate(-90)" x="0" y="0" font-size="10" text-anchor="middle" textLength="43.40" lengthAdjust="spacingAndGlyphs" stroke="#1a1a1a" stroke-width="0.25">%GFP<tspan baseline-shift="3.6" font-size="5.8">+</tspan>HSCs</text>
<text transform="translate(281.50,549.20) rotate(-90)" x="0" y="0" font-size="10" text-anchor="middle" textLength="59.20" lengthAdjust="spacingAndGlyphs" stroke="#1a1a1a" stroke-width="0.25">(Lin<tspan baseline-shift="3.6" font-size="5.8">−</tspan>C-kit<tspan baseline-shift="3.6" font-size="5.8">+</tspan>Sca1<tspan baseline-shift="3.6" font-size="5.8">+</tspan>)</text>
<rect x="0.5" y="0.5" width="519" height="632" fill="none" stroke="#111" stroke-width="1.2"/>
</svg>
</body></html>
